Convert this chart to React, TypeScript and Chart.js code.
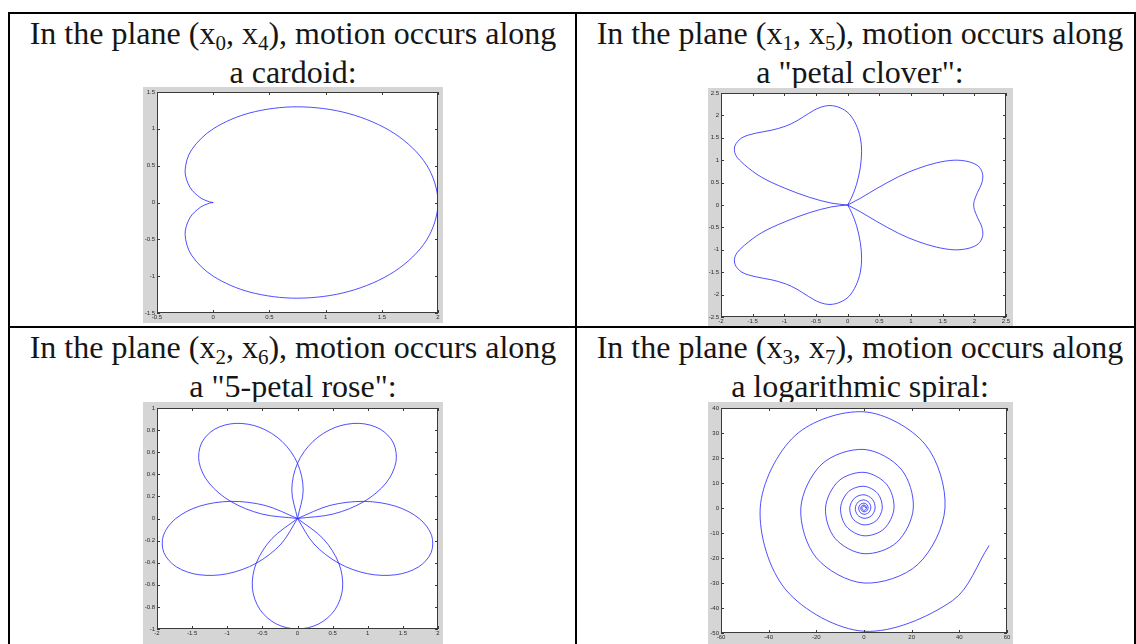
import React, { useEffect, useRef } from "react";
import { Chart, registerables } from "chart.js";
Chart.register(...registerables);

// ---------- data ----------
const cardioidPts: number[][] = [
  [0, 0], [-0.033, 0.009], [-0.116, 0.067], [-0.207, 0.207], [-0.25, 0.433], [-0.192, 0.716],
  [0, 1], [0.326, 1.216], [0.75, 1.299], [1.207, 1.207], [1.616, 0.933], [1.899, 0.509], [2, 0],
  [1.899, -0.509], [1.616, -0.933], [1.207, -1.207], [0.75, -1.299], [0.326, -1.216], [0, -1],
  [-0.192, -0.716], [-0.25, -0.433], [-0.207, -0.207], [-0.116, -0.067], [-0.033, -0.009], [0, 0],
];

const cloverRight: number[][] = [
  [0, 0], [0.2, 0.15], [0.45, 0.36], [0.8, 0.63], [1.1, 0.81], [1.4, 0.94], [1.68, 1.0], [1.9, 0.97],
  [2.06, 0.87], [2.13, 0.7], [2.12, 0.5], [2.05, 0.28], [2.0, 0.1], [1.99, 0], [2.0, -0.1], [2.05, -0.28],
  [2.12, -0.5], [2.13, -0.7], [2.06, -0.87], [1.9, -0.97], [1.68, -1.0], [1.4, -0.94], [1.1, -0.81],
  [0.8, -0.63], [0.45, -0.36], [0.2, -0.15], [0, 0],
];
const cloverUpper: number[][] = [
  [0, 0], [0.06, 0.16], [0.14, 0.46], [0.2, 0.84], [0.22, 1.2], [0.2, 1.5], [0.13, 1.8], [0.02, 2.04],
  [-0.12, 2.17], [-0.28, 2.22], [-0.45, 2.17], [-0.62, 2.04], [-0.8, 1.88], [-0.98, 1.76], [-1.2, 1.67],
  [-1.46, 1.6], [-1.67, 1.5], [-1.78, 1.32], [-1.77, 1.12], [-1.63, 0.9], [-1.36, 0.62], [-1.0, 0.38],
  [-0.6, 0.17], [-0.25, 0.04], [0, 0],
];
const cloverLower: number[][] = [
  [0, 0], [0.06, -0.16], [0.14, -0.46], [0.2, -0.84], [0.22, -1.2], [0.2, -1.5], [0.13, -1.8], [0.02, -2.04],
  [-0.12, -2.17], [-0.28, -2.22], [-0.45, -2.17], [-0.62, -2.04], [-0.8, -1.88], [-0.98, -1.76], [-1.2, -1.67],
  [-1.46, -1.6], [-1.67, -1.5], [-1.78, -1.32], [-1.77, -1.12], [-1.63, -0.9], [-1.36, -0.62], [-1.0, -0.38],
  [-0.6, -0.17], [-0.25, -0.04], [0, 0],
];

const roseBottom: number[][] = [
  [0, 0], [-0.366, -0.183], [-0.588, -0.405], [-0.642, -0.63], [-0.535, -0.824], [-0.302, -0.954], [0, -1],
  [0.302, -0.954], [0.535, -0.824], [0.642, -0.63], [0.588, -0.405], [0.366, -0.183], [0, 0],
];
const roseRight: number[][] = [
  [0, 0], [0.235, -0.231], [0.588, -0.405], [1.0, -0.5], [1.401, -0.509], [1.721, -0.439], [1.902, -0.309],
  [1.908, -0.151], [1.732, 0], [1.397, 0.111], [0.951, 0.155], [0.461, 0.118], [0, 0],
];
const roseUpperRight: number[][] = [
  [0, 0], [0.511, 0.041], [0.951, 0.155], [1.26, 0.321], [1.401, 0.509], [1.366, 0.683], [1.176, 0.809],
  [0.877, 0.861], [0.535, 0.824], [0.221, 0.698], [0, 0.5], [-0.081, 0.256], [0, 0],
];
const roseUpperLeft: number[][] = [
  [0, 0], [-0.511, 0.041], [-0.951, 0.155], [-1.26, 0.321], [-1.401, 0.509], [-1.366, 0.683], [-1.176, 0.809],
  [-0.877, 0.861], [-0.535, 0.824], [-0.221, 0.698], [0, 0.5], [0.081, 0.256], [0, 0],
];
const roseLeft: number[][] = [
  [0, 0], [-0.235, -0.231], [-0.588, -0.405], [-1.0, -0.5], [-1.401, -0.509], [-1.721, -0.439], [-1.902, -0.309],
  [-1.908, -0.151], [-1.732, 0], [-1.397, 0.111], [-0.951, 0.155], [-0.461, 0.118], [0, 0],
];

const spiralPts: number[][] = [
  [0.64, 0], [0.48, 0.48], [0, 0.73], [-0.54, 0.54], [-0.82, 0], [-0.62, -0.62], [0, -0.93], [0.7, -0.7],
  [1.05, 0], [0.79, 0.79], [0, 1.19], [-0.9, 0.9], [-1.35, 0], [-1.02, -1.02], [0, -1.53], [1.15, -1.15],
  [1.73, 0], [1.3, 1.3], [0, 1.96], [-1.48, 1.48], [-2.22, 0], [-1.67, -1.67], [0, -2.51], [1.89, -1.89],
  [2.84, 0], [2.14, 2.14], [0, 3.22], [-2.42, 2.42], [-3.64, 0], [-2.74, -2.74], [0, -4.12], [3.1, -3.1],
  [4.67, 0], [3.51, 3.51], [0, 5.29], [-3.97, 3.97], [-5.98, 0], [-4.5, -4.5], [0, -6.77], [5.1, -5.1],
  [7.67, 0], [5.77, 5.77], [0, 8.68], [-6.53, 6.53], [-9.83, 0], [-7.4, -7.4], [0, -11.12], [8.37, -8.37],
  [12.59, 0], [9.48, 9.48], [0, 14.26], [-10.73, 10.73], [-16.14, 0], [-12.14, -12.14], [0, -18.27], [13.75, -13.75],
  [20.69, 0], [15.56, 15.56], [0, 23.42], [-17.62, 17.62], [-26.51, 0], [-19.95, -19.95], [0, -30.01], [22.58, -22.58],
  [33.98, 0], [25.56, 25.56], [0, 38.47], [-28.94, 28.94], [-43.55, 0], [-32.76, -32.76], [0, -49.3], [37.09, -37.09],
  [52.5, -15.0],
];

const captions = [
  { a: "0", b: "4", second: "a cardoid:" },
  { a: "1", b: "5", second: "a \"petal clover\":" },
  { a: "2", b: "6", second: "a \"5-petal rose\":" },
  { a: "3", b: "7", second: "a logarithmic spiral:" },
];

// ---------- styling ----------
const BLUE = "rgba(35,35,255,0.8)";
const GRAY = "#d5d5d5";

const framePlugin = {
  id: "matlabFrame",
  beforeDraw(chart: any) {
    const { ctx, chartArea: a, width, height } = chart;
    ctx.save();
    ctx.fillStyle = GRAY;
    ctx.fillRect(0, 0, width, height);
    ctx.fillStyle = "#ffffff";
    ctx.fillRect(a.left, a.top, a.right - a.left, a.bottom - a.top);
    ctx.restore();
  },
  afterDraw(chart: any) {
    const { ctx, chartArea: a, scales } = chart;
    ctx.save();
    ctx.strokeStyle = "#3a3a3a";
    ctx.lineWidth = 1;
    ctx.strokeRect(Math.round(a.left) + 0.5, Math.round(a.top) + 0.5, Math.round(a.right - a.left) - 1, Math.round(a.bottom - a.top) - 1);
    ctx.beginPath();
    const L = 3;
    scales.x.ticks.forEach((t: any) => {
      const px = Math.round(scales.x.getPixelForValue(t.value)) + 0.5;
      ctx.moveTo(px, a.bottom); ctx.lineTo(px, a.bottom - L);
      ctx.moveTo(px, a.top); ctx.lineTo(px, a.top + L);
    });
    scales.y.ticks.forEach((t: any) => {
      const py = Math.round(scales.y.getPixelForValue(t.value)) + 0.5;
      ctx.moveTo(a.left, py); ctx.lineTo(a.left + L, py);
      ctx.moveTo(a.right, py); ctx.lineTo(a.right - L, py);
    });
    ctx.stroke();
    ctx.restore();
  },
};

type PlotProps = {
  left: number; top: number; width: number; height: number;
  pad: { l: number; t: number; r: number; b: number };
  x: [number, number, number]; y: [number, number, number];
  curves: number[][][];
  tension: number;
};

const fmt = (v: any) => String(Math.round(Number(v) * 100) / 100);

function Plot(p: PlotProps) {
  const ref = useRef<HTMLCanvasElement | null>(null);
  useEffect(() => {
    if (!ref.current) return;
    const tickFont = { size: 6, family: "'Liberation Sans', Arial, sans-serif" };
    const chart = new Chart(ref.current, {
      type: "scatter",
      data: {
        datasets: p.curves.map((pts) => ({
          data: pts.map(([x, y]) => ({ x, y })),
          showLine: true,
          pointRadius: 0,
          pointHoverRadius: 0,
          borderColor: BLUE,
          borderWidth: 1,
          tension: p.tension,
          fill: false,
        })),
      },
      options: {
        animation: false,
        responsive: false,
        devicePixelRatio: 1,
        events: [],
        layout: { padding: { top: p.pad.t, right: p.pad.r, left: 0, bottom: 0 } },
        plugins: { legend: { display: false }, tooltip: { enabled: false } },
        scales: {
          x: {
            type: "linear", min: p.x[0], max: p.x[1],
            ticks: { stepSize: p.x[2], autoSkip: false, maxRotation: 0, font: tickFont, color: "#2a2a2a", padding: 1, callback: fmt },
            grid: { display: false, drawTicks: false, tickLength: 0 },
            border: { display: false },
            afterFit: (s: any) => { s.height = p.pad.b; s.paddingLeft = 0; s.paddingRight = 0; },
          },
          y: {
            type: "linear", min: p.y[0], max: p.y[1],
            ticks: { stepSize: p.y[2], autoSkip: false, font: tickFont, color: "#2a2a2a", padding: 2, callback: fmt },
            grid: { display: false, drawTicks: false, tickLength: 0 },
            border: { display: false },
            afterFit: (s: any) => { s.width = p.pad.l; s.paddingTop = 0; s.paddingBottom = 0; },
          },
        },
      } as any,
      plugins: [framePlugin],
    });
    return () => chart.destroy();
  }, []);
  return (
    <canvas
      ref={ref}
      width={p.width}
      height={p.height}
      style={{ position: "absolute", left: p.left, top: p.top, width: p.width, height: p.height }}
    />
  );
}

function Caption({ center, top, a, b, second }: { center: number; top: number; a: string; b: string; second: string }) {
  const sub: React.CSSProperties = { fontSize: 21, position: "relative", top: 6 };
  return (
    <div
      style={{
        position: "absolute", left: center - 300, top, width: 600, textAlign: "center",
        fontFamily: "'Liberation Serif', 'Times New Roman', serif", fontSize: 32, lineHeight: "35px",
        color: "#161616", whiteSpace: "nowrap",
      }}
    >
      In the plane (x<span style={sub}>{a}</span>, x<span style={sub}>{b}</span>), motion occurs along
      <br />
      {second}
    </div>
  );
}

export default function App() {
  const line = (l: number, t: number, w: number, h: number) => (
    <div style={{ position: "absolute", left: l, top: t, width: w, height: h, background: "#000" }} />
  );
  return (
    <div style={{ position: "absolute", left: 0, top: 0, width: 1136, height: 644, overflow: "hidden", background: "#fff" }}>
      <Caption center={293} top={16} {...captions[0]} />
      <Caption center={860} top={16} {...captions[1]} />
      <Caption center={293} top={330} {...captions[2]} />
      <Caption center={860} top={330} {...captions[3]} />

      <Plot left={143} top={87} width={300} height={236} pad={{ l: 14, t: 5, r: 5, b: 10 }}
        x={[-0.5, 2, 0.5]} y={[-1.5, 1.5, 0.5]} curves={[cardioidPts]} tension={0.33} />
      <Plot left={708} top={88} width={305} height={238} pad={{ l: 13, t: 5, r: 7, b: 9 }}
        x={[-2, 2.5, 0.5]} y={[-2.5, 2.5, 0.5]} curves={[cloverRight, cloverUpper, cloverLower]} tension={0.33} />
      <Plot left={143} top={402} width={300} height={242} pad={{ l: 14, t: 6, r: 5, b: 15 }}
        x={[-2, 2, 0.5]} y={[-1, 1, 0.2]} curves={[roseBottom, roseRight, roseUpperRight, roseUpperLeft, roseLeft]} tension={0.33} />
      <Plot left={708} top={402} width={305} height={242} pad={{ l: 13, t: 6, r: 6, b: 11 }}
        x={[-60, 60, 20]} y={[-50, 40, 10]} curves={[spiralPts]} tension={0.33} />

      {line(8, 12, 1128, 2)}
      {line(8, 12, 2, 632)}
      {line(575, 12, 2, 632)}
      {line(1134, 12, 2, 632)}
      {line(8, 326, 1128, 2)}
    </div>
  );
}
